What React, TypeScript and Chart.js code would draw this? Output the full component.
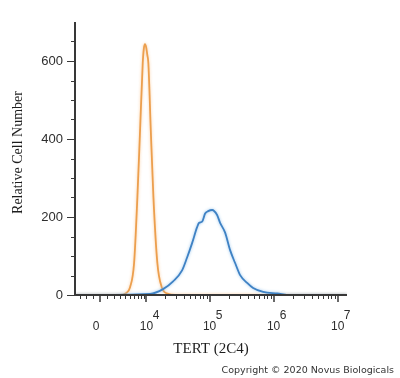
import React, { useEffect, useRef } from 'react';
import { Chart, registerables, Scale } from 'chart.js';

// ---- data (fluorescence intensity vs. relative cell number) ----
const ISOTYPE_X = [-4000, 3056, 4200, 5083, 6065, 6965, 7770, 8640, 8985, 9440, 9940, 10330, 10740, 11780, 13010, 15070, 17730, 22350, 28800, 14000000];
const ISOTYPE_Y = [0, 0, 5, 20, 82, 251, 423, 595, 630, 643, 633, 615, 595, 423, 251, 82, 20, 3, 0, 0];

const TERT_X = [-4000, 11450, 18600, 26830, 37170, 44540, 53350, 63880, 68680, 76520, 85250, 95000, 109700, 131200, 146200, 175000, 209400, 250800, 300300, 386500, 479300, 686400, 1137000, 1815000, 14000000];
const TERT_Y = [0, 3, 15, 35, 63, 96, 133, 174, 185, 188, 209, 215, 218, 205, 185, 160, 115, 82, 51, 31, 18, 8, 4, 0, 0];

const Y_MAJOR = [0, 200, 400, 600];
const Y_MINOR = [50, 100, 150, 250, 300, 350, 450, 500, 550, 650];
const X_MAJOR = [0, 10000, 100000, 1000000, 10000000];
const X_TICK_BASE = ['0', '10', '10', '10', '10'];
const X_TICK_EXP = ['', '4', '5', '6', '7'];
const X_MINOR = [
  -3000, -2000, -1000,
  1000, 2000, 3000, 4000, 5000, 6000, 7000, 8000, 9000,
  20000, 30000, 40000, 50000, 60000, 70000, 80000, 90000,
  200000, 300000, 400000, 500000, 600000, 700000, 800000, 900000,
  2000000, 3000000, 4000000, 5000000, 6000000, 7000000, 8000000, 9000000,
];
const X_MIN = -4000;
const X_MAX = 14000000;
const Y_MAX = 700;

const X_TITLE = 'TERT (2C4)';
const Y_TITLE = 'Relative Cell Number';
const COPYRIGHT = 'Copyright \u00A9 2020 Novus Biologicals';

// ---- biexponential-like (arcsinh) scale ----
const BIEX_W = 3900;
const tf = (v: number) => Math.asinh(v / BIEX_W) / Math.LN10;

class BiexScale extends Scale {
  static id = 'biex';
  static defaults = {};
  declare _startT: number;
  declare _rangeT: number;
  determineDataLimits() {
    const opts: any = this.options;
    const { min, max } = this.getMinMax(true);
    this.min = opts.min ?? min;
    this.max = opts.max ?? max;
  }
  buildTicks() {
    return X_MAJOR.filter((v) => v >= this.min && v <= this.max).map((value) => ({ value }));
  }
  configure() {
    super.configure();
    this._startT = tf(this.min);
    this._rangeT = tf(this.max) - tf(this.min);
  }
  getPixelForValue(v: number) {
    return this.getPixelForDecimal((tf(v) - this._startT) / this._rangeT);
  }
  getValueForPixel(p: number) {
    const d = this.getDecimalForPixel(p);
    return BIEX_W * Math.sinh((this._startT + d * this._rangeT) * Math.LN10);
  }
  getLabelForValue(v: number) {
    return String(v);
  }
}

Chart.register(...registerables, BiexScale as any);

const AXIS_COLOR = '#383838';
const TEXT_COLOR = '#2e2e2e';
const SANS = "'Liberation Sans', Arial, sans-serif";
const SERIF = "'Liberation Serif', 'Times New Roman', serif";

const decorPlugin = {
  id: 'decor',
  beforeDatasetDraw(chart: any, args: any) {
    const ds = chart.data.datasets[args.index] as any;
    chart.ctx.save();
    chart.ctx.shadowColor = ds.haloColor;
    chart.ctx.shadowBlur = 3;
  },
  afterDatasetDraw(chart: any) {
    chart.ctx.restore();
  },
  afterDatasetsDraw(chart: any) {
    const { ctx, chartArea: a, scales } = chart;
    const x = scales.x, y = scales.y;
    ctx.save();
    ctx.strokeStyle = AXIS_COLOR;
    ctx.lineWidth = 2;
    ctx.beginPath();
    ctx.moveTo(a.left, a.top);
    ctx.lineTo(a.left, a.bottom);
    ctx.moveTo(a.left - 1, a.bottom);
    ctx.lineTo(a.right, a.bottom);
    ctx.stroke();
    ctx.lineWidth = 1;
    ctx.beginPath();
    for (const v of Y_MAJOR) {
      const py = Math.round(y.getPixelForValue(v)) + 0.5;
      ctx.moveTo(a.left - 8, py);
      ctx.lineTo(a.left, py);
    }
    for (const v of Y_MINOR) {
      const py = Math.round(y.getPixelForValue(v)) + 0.5;
      ctx.moveTo(a.left - 4, py);
      ctx.lineTo(a.left, py);
    }
    for (const v of X_MINOR) {
      const px = Math.round(x.getPixelForValue(v)) + 0.5;
      ctx.moveTo(px, a.bottom);
      ctx.lineTo(px, a.bottom + 4);
    }
    ctx.stroke();
    ctx.lineWidth = 1.5;
    ctx.beginPath();
    for (const v of X_MAJOR) {
      const px = Math.round(x.getPixelForValue(v));
      ctx.moveTo(px, a.bottom);
      ctx.lineTo(px, a.bottom + 7);
    }
    ctx.stroke();
    ctx.restore();
  },
  afterDraw(chart: any) {
    const { ctx, chartArea: a, scales } = chart;
    const x = scales.x, y = scales.y;
    ctx.save();
    ctx.fillStyle = TEXT_COLOR;
    // y tick labels
    ctx.font = `13px ${SANS}`;
    ctx.textAlign = 'right';
    ctx.textBaseline = 'middle';
    for (const v of Y_MAJOR) {
      ctx.fillText(String(v), a.left - 12, y.getPixelForValue(v));
    }
    // x tick labels
    ctx.font = `12px ${SANS}`;
    ctx.textBaseline = 'alphabetic';
    X_MAJOR.forEach((v, i) => {
      const px = x.getPixelForValue(v);
      const base = X_TICK_BASE[i];
      const exp = X_TICK_EXP[i];
      const w = ctx.measureText(base).width;
      ctx.textAlign = 'center';
      ctx.fillText(base, exp ? px : px - 4, a.bottom + 35);
      if (exp) {
        ctx.textAlign = 'left';
        ctx.fillText(exp, px + w / 2 - 0.5, a.bottom + 24);
      }
    });
    // axis titles
    ctx.fillStyle = '#1e1e1e';
    ctx.font = `15px ${SERIF}`;
    ctx.textAlign = 'center';
    ctx.textBaseline = 'middle';
    ctx.fillText(X_TITLE, (a.left + a.right) / 2, a.bottom + 54);
    ctx.save();
    ctx.translate(18, (a.top + a.bottom) / 2 - 6);
    ctx.rotate(-Math.PI / 2);
    ctx.font = `14px ${SERIF}`;
    ctx.fillText(Y_TITLE, 0, 0);
    ctx.restore();
    // copyright
    ctx.fillStyle = '#333333';
    ctx.font = `9.5px 'DejaVu Sans', Verdana, sans-serif`;
    ctx.textAlign = 'right';
    ctx.textBaseline = 'alphabetic';
    ctx.fillText(COPYRIGHT, 394, 373);
    ctx.restore();
  },
};

export default function App() {
  const ref = useRef<HTMLCanvasElement | null>(null);
  useEffect(() => {
    if (!ref.current) return;
    const chart = new Chart(ref.current, {
      type: 'line',
      data: {
        datasets: [
          {
            label: 'TERT (2C4)',
            data: TERT_X.map((v, i) => ({ x: v, y: TERT_Y[i] })),
            borderColor: '#3f82c4',
            haloColor: 'rgba(140,190,235,0.9)',
            borderWidth: 1.8,
            pointRadius: 0,
            cubicInterpolationMode: 'monotone',
            fill: false,
          } as any,
          {
            label: 'Isotype control',
            data: ISOTYPE_X.map((v, i) => ({ x: v, y: ISOTYPE_Y[i] })),
            borderColor: '#ec9f4e',
            haloColor: 'rgba(250,200,150,0.9)',
            borderWidth: 1.8,
            pointRadius: 0,
            cubicInterpolationMode: 'monotone',
            fill: false,
          } as any,
        ],
      },
      options: {
        animation: false,
        responsive: false,
        layout: { padding: { top: 22, right: 53, left: 0, bottom: 0 } },
        plugins: { legend: { display: false }, tooltip: { enabled: false } },
        scales: {
          x: {
            type: 'biex' as any,
            min: X_MIN,
            max: X_MAX,
            ticks: { display: false },
            grid: { display: false },
            border: { display: false },
            afterFit: (s: any) => { s.height = 83; },
          } as any,
          y: {
            type: 'linear',
            min: 0,
            max: Y_MAX,
            ticks: { display: false },
            grid: { display: false },
            border: { display: false },
            afterFit: (s: any) => { s.width = 75; },
          },
        },
      },
      plugins: [decorPlugin],
    });
    return () => chart.destroy();
  }, []);
  return (
    <div style={{ position: 'fixed', left: 0, top: 0, width: 400, height: 378, background: '#fff' }}>
      <canvas ref={ref} width={400} height={378} style={{ width: 400, height: 378 }} />
    </div>
  );
}
